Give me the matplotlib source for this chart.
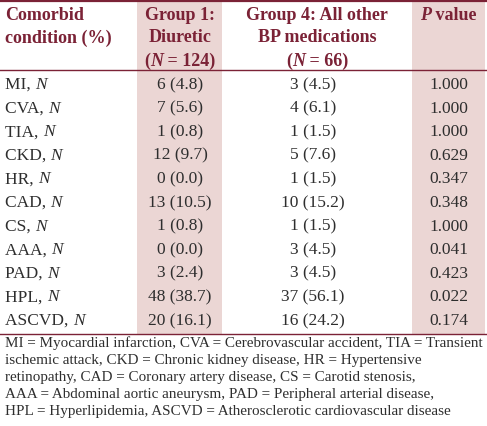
import matplotlib.pyplot as plt

conditions = ["MI", "CVA", "TIA", "CKD", "HR", "CAD", "CS", "AAA", "PAD", "HPL", "ASCVD"]
group1_n = [6, 7, 1, 12, 0, 13, 1, 0, 3, 48, 20]
group1_pct = [4.8, 5.6, 0.8, 9.7, 0.0, 10.5, 0.8, 0.0, 2.4, 38.7, 16.1]
group4_n = [3, 4, 1, 5, 1, 10, 1, 3, 3, 37, 16]
group4_pct = [4.5, 6.1, 1.5, 7.6, 1.5, 15.2, 1.5, 4.5, 4.5, 56.1, 24.2]
p_values = [1.000, 1.000, 1.000, 0.629, 0.347, 0.348, 1.000, 0.041, 0.423, 0.022, 0.174]

footnote = [
    "MI = Myocardial infarction, CVA = Cerebrovascular accident, TIA = Transient",
    "ischemic attack, CKD = Chronic kidney disease, HR = Hypertensive",
    "retinopathy, CAD = Coronary artery disease, CS = Carotid stenosis,",
    "AAA = Abdominal aortic aneurysm, PAD = Peripheral arterial disease,",
    "HPL = Hyperlipidemia, ASCVD = Atherosclerotic cardiovascular disease",
]

dark_red = "#7b2236"
shade = "#ebd6d4"
body = "#2e2e2e"
font = "Liberation Serif"

fig = plt.figure(figsize=(4.87, 4.27), dpi=100)
ax = fig.add_axes([0, 0, 1, 1])
ax.set_xlim(0, 487)
ax.set_ylim(427, 0)
ax.axis("off")
renderer = fig.canvas.get_renderer()


def runs(x, y, parts, ha="left", **kw):
    # parts: list of (text, italic) drawn side by side
    widths = []
    for s, it in parts:
        t = ax.text(0, 0, s, style="italic" if it else "normal", **kw)
        bb = t.get_window_extent(renderer)
        t.remove()
        widths.append(bb.width)
    total = sum(widths)
    px = ax.transData.transform((x, y))[0]
    if ha == "center":
        px -= total / 2
    for (s, it), w in zip(parts, widths):
        xd = ax.transData.inverted().transform((px, 0))[0]
        ax.text(xd, y, s, ha="left", va="center",
                style="italic" if it else "normal", **kw)
        px += w


top, head_bot, tab_bot = 2, 71, 335
row0, pitch = 85, 23.6

# shaded columns
for x0, x1 in [(137, 222), (412, 485)]:
    ax.fill_between([x0, x1], top, tab_bot, color=shade, lw=0)

# rules
for y, w in [(top, 1.6), (head_bot, 1.0), (tab_bot, 1.0)]:
    ax.plot([0, 487], [y, y], color=dark_red, lw=w)

hkw = dict(fontsize=13, color=dark_red, fontweight="bold", family=font)
runs(5, 15, [("Comorbid", False)], **hkw)
runs(5, 38, [("condition (%)", False)], **hkw)
runs(180, 15, [("Group 1:", False)], ha="center", **hkw)
runs(180, 38, [("Diuretic", False)], ha="center", **hkw)
runs(180, 61, [("(", False), ("N", True), (" = 124)", False)], ha="center", **hkw)
runs(317, 15, [("Group 4: All other", False)], ha="center", **hkw)
runs(317, 38, [("BP medications", False)], ha="center", **hkw)
runs(317, 61, [("(", False), ("N", True), (" = 66)", False)], ha="center", **hkw)
runs(448, 15, [("P", True), (" value", False)], ha="center", **hkw)

bkw = dict(fontsize=12.5, color=body, family=font)
for i, c in enumerate(conditions):
    y = row0 + i * pitch
    runs(5, y, [(c + ", ", False), ("N", True)], **bkw)
    runs(180, y, [(f"{group1_n[i]} ({group1_pct[i]:.1f})", False)], ha="center", **bkw)
    runs(313, y, [(f"{group4_n[i]} ({group4_pct[i]:.1f})", False)], ha="center", **bkw)
    runs(449, y, [(f"{p_values[i]:.3f}", False)], ha="center", **bkw)

for j, line in enumerate(footnote):
    ax.text(5, 343 + j * 17.2, line, ha="left", va="center", fontsize=10.9,
            color=body, family=font)

fig.savefig("out.png", dpi=100)
